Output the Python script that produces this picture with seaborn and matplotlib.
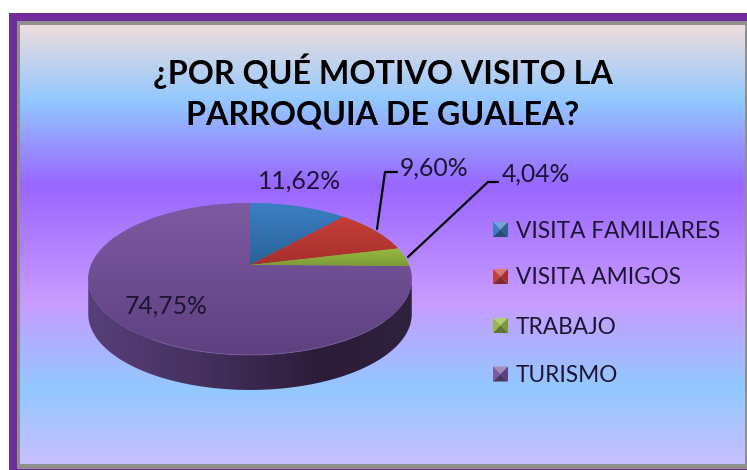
import numpy as np
import matplotlib
matplotlib.use("Agg")
import matplotlib.pyplot as plt
import matplotlib.transforms as mtransforms
from matplotlib.colors import LinearSegmentedColormap
from matplotlib.patches import Polygon, Rectangle
import seaborn as sns

categories = ["VISITA FAMILIARES", "VISITA AMIGOS", "TRABAJO", "TURISMO"]
values = [11.62, 9.60, 4.04, 74.75]
value_labels = ["11,62%", "9,60%", "4,04%", "74,75%"]
title = "¿POR QUÉ MOTIVO VISITO LA\nPARROQUIA DE GUALEA?"

colors_top = ["#3b7fc4", "#c63e39", "#96bb42", "#7d5aa3"]
colors_bottom = ["#2a6296", "#a5302c", "#7d9a38", "#5e4080"]

sns.set_theme(style="white")
plt.rcParams["font.family"] = ["Lato", "DejaVu Sans"]

W, H = 747, 470
# tilted pie: centre and scale of the perspective, in picture pixels
CX, CY = 250, 265
SX, SY, TILT = 159, 73.4, 0.184
DEPTH = 35


class Tilt(mtransforms.Transform):
    input_dims = 2
    output_dims = 2

    def transform_non_affine(self, xy):
        xy = np.asarray(xy)
        w = 1 + TILT * xy[:, 1]
        return np.column_stack([CX + SX * xy[:, 0] / w, CY - SY * xy[:, 1] / w])


def gradient(ax, stops, box, clip, horizontal=False, zorder=2):
    cmap = LinearSegmentedColormap.from_list("g", stops)
    g = np.linspace(0, 1, 256)
    g = g.reshape(1, -1) if horizontal else g.reshape(-1, 1)
    im = ax.imshow(g, cmap=cmap, extent=[box[0], box[1], box[3], box[2]],
                   aspect="auto", interpolation="bilinear", zorder=zorder)
    im.set_clip_path(clip)
    return im


fig = plt.figure(figsize=(W / 100, H / 100), dpi=100, facecolor="white")
ax = fig.add_axes([0, 0, 1, 1])

# frame and background
ax.add_patch(Rectangle((9, 13), W - 9, H - 13, facecolor="#702d9b", lw=0, zorder=0))
ax.add_patch(Rectangle((17, 21), W - 17, 448, facecolor="#8f8f8f", lw=0, zorder=1))
bg_stops = [(0.0, "#eedddd"), (0.17, "#92c8ff"), (0.365, "#9966ff"), (0.63, "#c89bff"),
            (0.83, "#92c8ff"), (1.0, "#c8c0ff")]
bg = Rectangle((20, 25), 725, 439, transform=ax.transData)
gradient(ax, bg_stops, (20, 745, 25, 464), bg)

# side wall of the pie
a0 = np.arcsin(TILT)
t = np.linspace(-a0, -np.pi + a0, 200)
rim = Tilt().transform(np.column_stack([np.cos(t), np.sin(t)]))
wall_pts = np.vstack([rim, (rim + [0, DEPTH])[::-1]])
wall = Polygon(wall_pts, closed=True, transform=ax.transData, facecolor="none", edgecolor="none")
ax.add_patch(wall)
gradient(ax, [(0, "#57407a"), (0.35, "#45305f"), (0.72, "#2b1c38"), (1, "#2f2240")],
         (88, 413, 270, 392), wall, horizontal=True)

# top of the pie
tilt = Tilt() + ax.transData
wedges, _ = ax.pie(values, colors=colors_top, startangle=90, counterclock=False,
                   wedgeprops={"linewidth": 0, "edgecolor": "none"})
for wedge, c0, c1 in zip(wedges, colors_top, colors_bottom):
    wedge.set_transform(tilt)
    wedge.set_zorder(3)
    pts = Tilt().transform(wedge.get_path().vertices * wedge.r + np.array(wedge.center))
    box = (pts[:, 0].min(), pts[:, 0].max(), pts[:, 1].min(), pts[:, 1].max())
    gradient(ax, [c0, c1], box, wedge, zorder=4)
ax.plot(rim[40:-60, 0], rim[40:-60, 1], color="#8a6fb0", lw=0.8, alpha=0.45, zorder=5)

# title and labels
ax.text(383, 91.5, title, ha="center", va="center", fontsize=23.2, fontweight="bold",
        color="black", linespacing=1.47, zorder=6)
label_pos = [(299, 181), (434, 168), (536, 174), (166, 306)]
for s, (x, y) in zip(value_labels, label_pos):
    ax.text(x, y, s, ha="center", va="center", fontsize=17.8, color="#1c1430", zorder=6)
ax.plot([377, 385, 397], [229, 172, 172], color="black", lw=1.6, zorder=6)
ax.plot([408, 488, 498], [257, 182, 182], color="black", lw=1.6, zorder=6)

# legend with bevelled keys
legend_y = [229.5, 276.5, 325.5, 374]
for name, y, c0, c1 in zip(categories, legend_y, colors_top, colors_bottom):
    x0, x1, y0, y1 = 493, 508, y - 7.5, y + 7.5
    xm, ym = (x0 + x1) / 2, y
    dark = sns.dark_palette(c1, 4)[2]
    ax.add_patch(Polygon([(x0, y0), (x1, y0), (xm, ym)], facecolor=sns.light_palette(c0, 4, reverse=True)[1], zorder=6, lw=0))
    ax.add_patch(Polygon([(x0, y0), (x0, y1), (xm, ym)], facecolor=c0, zorder=6, lw=0))
    ax.add_patch(Polygon([(x1, y0), (x1, y1), (xm, ym)], facecolor=c1, zorder=6, lw=0))
    ax.add_patch(Polygon([(x0, y1), (x1, y1), (xm, ym)], facecolor=dark, zorder=6, lw=0))
    ax.text(516, y + 1.5, name, ha="left", va="center", fontsize=16.3, color="#1c1430", zorder=6)

ax.set_aspect("auto")
ax.set_xlim(0, W)
ax.set_ylim(H, 0)
ax.axis("off")
fig.savefig("out.png", dpi=100, facecolor="white")
